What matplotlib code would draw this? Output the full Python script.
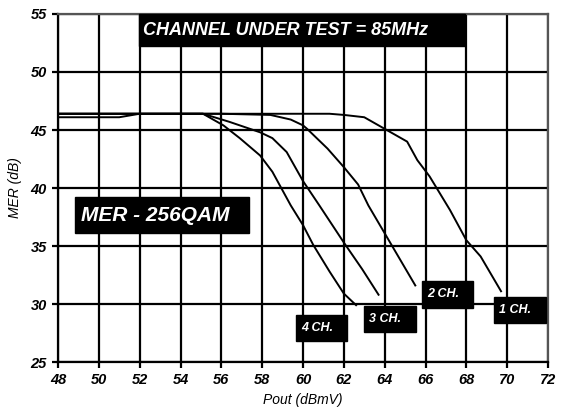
import matplotlib.pyplot as plt
from matplotlib.patches import Rectangle

# MER vs output power, one curve per number of loaded channels
pout_1ch = [48, 52, 56, 60, 61.3, 62.0, 63.0, 64.0, 65.1, 65.6, 66.2, 67.2, 68.0, 68.7, 69.7]
mer_1ch = [46.4, 46.4, 46.4, 46.4, 46.4, 46.3, 46.1, 45.1, 44.0, 42.4, 41.0, 38.1, 35.5, 34.1, 31.1]

pout_2ch = [48, 52, 56, 58.4, 59.4, 60.0, 60.2, 61.2, 62.0, 62.7, 63.2, 63.8, 64.7, 65.5]
mer_2ch = [46.4, 46.4, 46.4, 46.3, 45.9, 45.4, 45.1, 43.4, 41.8, 40.3, 38.5, 36.7, 34.0, 31.6]

pout_3ch = [48, 52, 55.1, 56.4, 57.9, 58.5, 59.2, 60.0, 60.8, 62.0, 62.9, 63.7]
mer_3ch = [46.4, 46.4, 46.4, 45.7, 44.8, 44.3, 43.1, 40.6, 38.5, 35.3, 33.0, 30.8]

pout_4ch = [48, 51, 52, 55.1, 56.1, 56.9, 57.9, 58.5, 59.4, 60.0, 60.5, 61.3, 62.0, 62.6]
mer_4ch = [46.1, 46.1, 46.4, 46.4, 45.4, 44.3, 42.8, 41.4, 38.5, 36.8, 35.1, 32.8, 30.9, 29.9]

x_ticks = list(range(48, 73, 2))
y_ticks = list(range(25, 56, 5))

FONT = "Liberation Sans"


def label_box(ax, x0, x1, y0, y1, text, size, inset):
    ax.add_patch(Rectangle((x0, y0), x1 - x0, y1 - y0, facecolor="black",
                           edgecolor="black", clip_on=False, zorder=5))
    ax.text(x0 + inset, (y0 + y1) / 2, text, color="white", fontsize=size,
            fontweight="bold", fontstyle="italic", family=FONT,
            ha="left", va="center", zorder=6, clip_on=False)


def main():
    fig = plt.figure(figsize=(5.67, 4.19), dpi=100)
    ax = fig.add_axes([0.1023, 0.136, 0.8642, 0.8306])

    for xs, ys in [(pout_1ch, mer_1ch), (pout_2ch, mer_2ch),
                   (pout_3ch, mer_3ch), (pout_4ch, mer_4ch)]:
        ax.plot(xs, ys, color="black", lw=1.4, zorder=3,
                solid_joinstyle="round")

    ax.set_xlim(48, 72)
    ax.set_ylim(25, 55)
    ax.set_xticks(x_ticks)
    ax.set_yticks(y_ticks)
    ax.grid(True, color="black", lw=1.6)
    ax.set_axisbelow(True)
    for sp in ax.spines.values():
        sp.set_linewidth(1.6)
    ax.spines["top"].set_color("#555555")
    ax.spines["right"].set_color("#555555")
    ax.tick_params(length=4, width=1.6, direction="out", pad=4)
    for lab in ax.get_xticklabels() + ax.get_yticklabels():
        lab.set_fontfamily(FONT)
        lab.set_fontsize(10.5)
        lab.set_fontweight("bold")
        lab.set_fontstyle("italic")

    ax.set_xlabel("Pout (dBmV)", family=FONT, fontsize=10, fontstyle="italic",
                  labelpad=4)
    ax.set_ylabel("MER (dB)", family=FONT, fontsize=10, fontstyle="italic",
                  labelpad=6)

    label_box(ax, 51.97, 67.95, 52.2, 55.0, "CHANNEL UNDER TEST = 85MHz", 13, 0.2)
    label_box(ax, 48.83, 57.36, 36.1, 39.2, "MER - 256QAM", 15, 0.3)
    label_box(ax, 59.67, 62.17, 26.8, 29.05, "4 CH.", 9, 0.25)
    label_box(ax, 63.0, 65.55, 27.6, 29.8, "3 CH.", 9, 0.25)
    label_box(ax, 65.84, 68.34, 29.65, 32.0, "2 CH.", 9, 0.25)
    label_box(ax, 69.37, 71.92, 28.4, 30.6, "1 CH.", 9, 0.25)

    fig.savefig("out.png", dpi=100)


if __name__ == "__main__":
    main()
